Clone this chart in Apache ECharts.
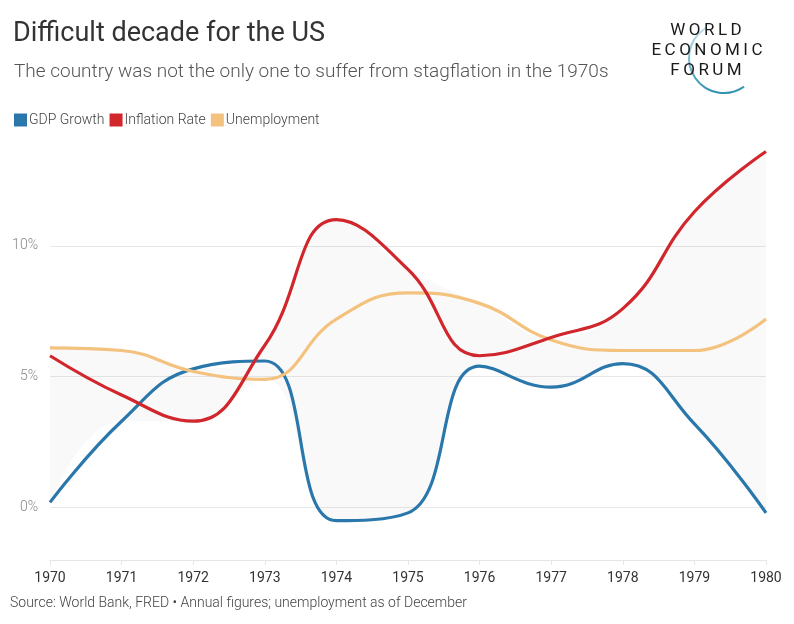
<!DOCTYPE html>
<html>
<head>
<meta charset="utf-8">
<script src="https://cdn.jsdelivr.net/npm/echarts@6/dist/echarts.min.js"></script>
<style>
  html, body { margin: 0; padding: 0; background: #fff; }
  #chart { width: 794px; height: 624px; }
</style>
</head>
<body>
<div id="chart"></div>
<script>
// data
var years = ['1970', '1971', '1972', '1973', '1974', '1975', '1976', '1977', '1978', '1979', '1980'];
var gdpGrowth = [0.2, 3.3, 5.3, 5.6, -0.5, -0.2, 5.4, 4.6, 5.5, 3.2, -0.2];
var inflation = [5.8, 4.3, 3.3, 6.2, 11.0, 9.1, 5.8, 6.5, 7.6, 11.3, 13.6];
var unemployment = [6.1, 6.0, 5.2, 4.9, 7.2, 8.2, 7.8, 6.4, 6.0, 6.0, 7.2];
var yTickLabels = [0, 5, 10];

// grey band between lowest and highest line
var bandLow = [], bandSpan = [];
for (var i = 0; i < years.length; i++) {
    var lo = Math.min(gdpGrowth[i], inflation[i], unemployment[i]);
    var hi = Math.max(gdpGrowth[i], inflation[i], unemployment[i]);
    bandLow.push(lo);
    bandSpan.push(+(hi - lo).toFixed(2));
}

// split line colours cycle over ticks -2..14, only show 0, 5, 10
var gridColors = [];
for (var v = -2; v <= 14; v++) {
    gridColors.push(yTickLabels.indexOf(v) >= 0 ? '#e8e8e8' : 'rgba(0,0,0,0)');
}

// spread letters of the logo a bit
function spaced(s) {
    return s.split('').join('\u2009');
}

var font = 'Roboto, "Liberation Sans", sans-serif';
var chart = echarts.init(document.getElementById('chart'));
var smooth = 0.45;

chart.setOption({
    animation: false,
    textStyle: { fontFamily: font },
    title: [
        {
            text: 'Difficult decade for the US',
            left: 8, top: 16,
            textStyle: { fontSize: 27, fontWeight: 'normal', color: '#333', fontFamily: font }
        },
        {
            text: 'The country was not the only one to suffer from stagflation in the 1970s',
            left: 9, top: 58,
            textStyle: { fontSize: 19, fontWeight: 300, color: '#555', fontFamily: font }
        }
    ],
    legend: {
        data: ['GDP Growth', 'Inflation Rate', 'Unemployment'],
        left: 9, top: 108,
        icon: 'rect',
        itemWidth: 13, itemHeight: 13,
        itemGap: 5,
        textStyle: { fontSize: 14, fontWeight: 300, color: '#444', padding: [0, 0, 0, -3] }
    },
    grid: { left: 50, right: 28, top: 141, bottom: 64 },
    xAxis: {
        type: 'category',
        data: years,
        boundaryGap: false,
        axisLine: { onZero: false, lineStyle: { color: '#e6e6e6' } },
        axisTick: { show: true, length: 5, lineStyle: { color: '#e6e6e6' } },
        axisLabel: { color: '#333', fontSize: 14, margin: 11 },
        splitLine: { show: false }
    },
    yAxis: {
        type: 'value',
        min: -2, max: 14, interval: 1,
        axisLine: { show: false },
        axisTick: { show: false },
        axisLabel: {
            color: '#888', fontSize: 14, fontWeight: 300, margin: 12,
            formatter: function (val) {
                return yTickLabels.indexOf(val) >= 0 ? val + '%' : '';
            }
        },
        splitLine: { lineStyle: { color: gridColors, width: 1 } }
    },
    series: [
        {
            name: 'bandLow',
            type: 'line',
            stack: 'band',
            stackStrategy: 'all',
            data: bandLow,
            smooth: smooth,
            symbol: 'none',
            silent: true,
            lineStyle: { opacity: 0 },
            z: 1
        },
        {
            name: 'bandSpan',
            type: 'line',
            stack: 'band',
            stackStrategy: 'all',
            data: bandSpan,
            smooth: smooth,
            symbol: 'none',
            silent: true,
            lineStyle: { opacity: 0 },
            areaStyle: { color: 'rgba(0,0,0,0.035)' },
            z: 1
        },
        {
            name: 'GDP Growth',
            type: 'line',
            data: gdpGrowth,
            smooth: smooth,
            symbol: 'none',
            color: '#2a78ab',
            lineStyle: { width: 3.2 },
            z: 3
        },
        {
            name: 'Inflation Rate',
            type: 'line',
            data: inflation,
            smooth: smooth,
            symbol: 'none',
            color: '#d0262c',
            lineStyle: { width: 3.2 },
            z: 5
        },
        {
            name: 'Unemployment',
            type: 'line',
            data: unemployment,
            smooth: smooth,
            symbol: 'none',
            color: '#f4c27f',
            lineStyle: { width: 3.2 },
            z: 4
        }
    ],
    graphic: [
        {
            type: 'text',
            left: 10, top: 596,
            style: {
                text: 'Source: World Bank, FRED \u2022 Annual figures; unemployment as of December',
                font: '300 14px ' + font,
                fill: '#444'
            }
        },
        // World Economic Forum logo
        {
            type: 'arc',
            shape: { cx: 724, cy: 58, r: 35, startAngle: 55 * Math.PI / 180, endAngle: 240 * Math.PI / 180, clockwise: true },
            style: {
                fill: null,
                lineWidth: 2,
                stroke: new echarts.graphic.LinearGradient(0, 1, 0, 0, [
                    { offset: 0, color: '#2b8fb0' },
                    { offset: 1, color: '#c8e4ee' }
                ])
            },
            z: 10
        },
        {
            type: 'text',
            x: 706, y: 31,
            style: { text: spaced('WORLD'), font: '17px ' + font, fill: '#1a1a1a', align: 'center', verticalAlign: 'middle' },
            z: 11
        },
        {
            type: 'text',
            x: 707, y: 51,
            style: { text: spaced('ECONOMIC'), font: '17px ' + font, fill: '#1a1a1a', align: 'center', verticalAlign: 'middle' },
            z: 11
        },
        {
            type: 'text',
            x: 706, y: 71,
            style: { text: spaced('FORUM'), font: '17px ' + font, fill: '#1a1a1a', align: 'center', verticalAlign: 'middle' },
            z: 11
        }
    ]
});
</script>
</body>
</html>
